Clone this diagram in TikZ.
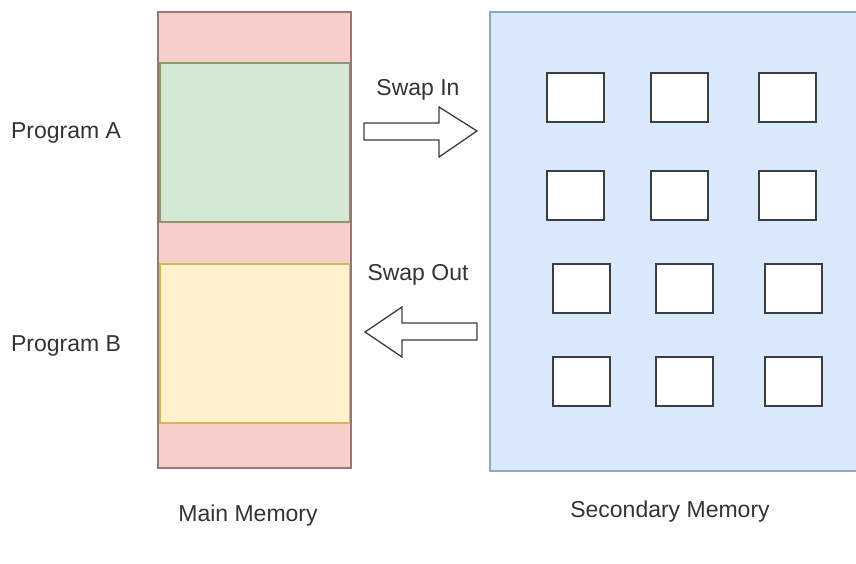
\documentclass[tikz,border=0pt]{standalone}
\usepackage{fontspec}
\setmainfont{Liberation Sans}
\usetikzlibrary{positioning}

\definecolor{memred}{HTML}{F8CECC}
\definecolor{memredline}{HTML}{9A7670}
\definecolor{proggreen}{HTML}{D5E8D4}
\definecolor{proggreenline}{HTML}{8A9A70}
\definecolor{progyellow}{HTML}{FFF2CC}
\definecolor{progyellowline}{HTML}{D6B656}
\definecolor{secblue}{HTML}{DAE8FC}
\definecolor{secblueline}{HTML}{8FA6C4}
\definecolor{inkgrey}{HTML}{3A3D42}

\tikzset{
  txt/.style={font=\fontsize{23}{27}\selectfont, text=black!80, inner sep=0pt},
  page/.style={draw=inkgrey, line width=2pt, fill=white,
    minimum width=57pt, minimum height=49pt, inner sep=0pt},
  blockarrow/.style={draw=inkgrey, line width=1.3pt, fill=white, line join=miter}
}

\begin{document}
\begin{tikzpicture}[x=1pt, y=-1pt]
    \useasboundingbox (0,0) rectangle (856,563);

    % main memory column
    \fill[memred] (158,12) rectangle (351,468);
    \draw[proggreenline, fill=proggreen, line width=1.2pt] (160,63) rectangle (350,222);
    \draw[progyellowline, fill=progyellow, line width=1.2pt] (160,264) rectangle (350,423);
    \draw[memredline, line width=1.3pt] (158,12) rectangle (351,468);

    % secondary memory (runs off the right edge)
    \fill[secblue] (490,12) rectangle (856,471);
    \draw[secblueline, line width=1.2pt] (856,12) -- (490,12) -- (490,471) -- (856,471);

    % pages held in secondary memory
    \foreach \r/\y in {1/97.5, 2/195.5} {
        \foreach \c/\x in {1/575.5, 2/679, 3/787.5} {
            \node[page] (pg\r\c) at (\x,\y) {};
        }
    }
    \foreach \r/\y in {3/288, 4/381} {
        \foreach \c/\x in {1/581.5, 2/684.5, 3/793.5} {
            \node[page] (pg\r\c) at (\x,\y) {};
        }
    }

    % swap arrows
    \draw[blockarrow] (364,123) -- (439,123) -- (439,107) -- (477,131)
        -- (439,157) -- (439,140) -- (364,140) -- cycle;
    \draw[blockarrow] (477,323) -- (402,323) -- (402,307) -- (365,332)
        -- (402,357) -- (402,340) -- (477,340) -- cycle;

    \node[txt] (swapin) at (418,89.5) {Swap In};
    \node[txt] (swapout) at (418,274.5) {Swap Out};

    \node[txt] (progA) at (66,132.5) {Program A};
    \node[txt] (progB) at (66,345.5) {Program B};

    \node[txt] (mainmem) at (248,515.5) {Main Memory};
    \node[txt] (secmem) at (670,511.5) {Secondary Memory};
\end{tikzpicture}
\end{document}
